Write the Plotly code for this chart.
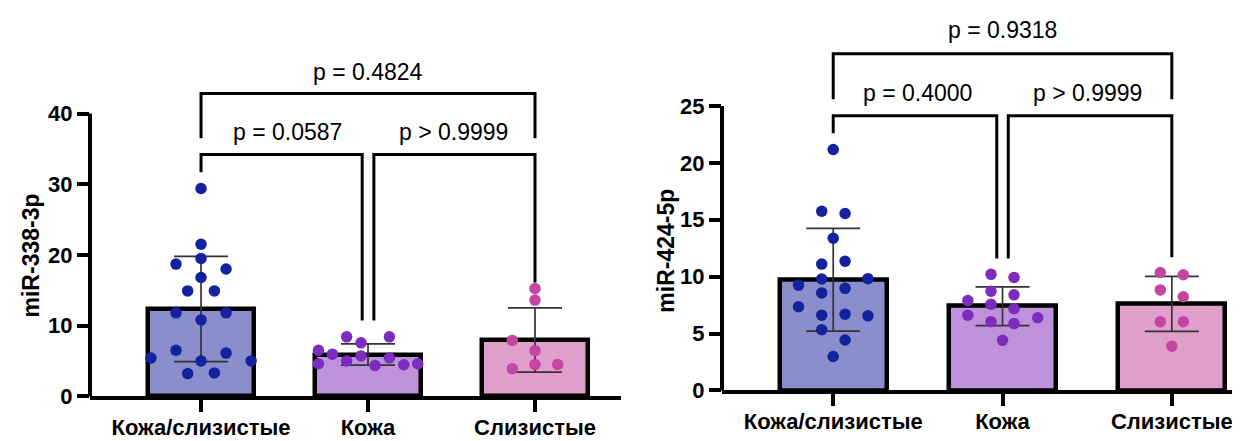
import plotly.graph_objects as go

# ---------------- data ----------------
categories = ["Кожа/слизистые", "Кожа", "Слизистые"]

# Panel 1: miR-338-3p
p1_title = "miR-338-3p"
p1_mean = [12.35, 5.9, 7.95]
p1_sd = [7.45, 1.5, 4.55]
p1_vals = [
    [29.4, 21.5, 19.5, 18.7, 18.0, 16.8, 14.9, 14.9, 11.8, 11.8, 10.8, 6.5, 6.1, 5.4, 5.0, 5.0, 3.2, 3.3],
    [8.4, 8.4, 7.55, 6.5, 5.95, 5.7, 5.4, 5.0, 4.6, 4.35, 4.45, 4.6],
    [15.25, 13.6, 7.9, 6.45, 4.5, 3.9, 4.5],
]
p1_jitter = [
    [0, 0, 0, -0.15, 0.15, 0, -0.08, 0.08, -0.15, 0.15, 0, -0.15, 0.15, -0.30, 0.30, 0, -0.08, 0.08],
    [-0.128, 0.128, -0.042, -0.297, -0.213, -0.042, 0.128, -0.128, -0.297, 0.042, 0.214, 0.298],
    [0, 0, -0.136, 0, 0, -0.136, 0.136],
]
p1_ticks = [0, 10, 20, 30, 40]
p1_pvals = ["p = 0.4824", "p = 0.0587", "p > 0.9999"]

# Panel 2: miR-424-5p
p2_title = "miR-424-5p"
p2_mean = [9.72, 7.4, 7.6]
p2_sd = [4.52, 1.7, 2.42]
p2_vals = [
    [21.17, 15.75, 15.55, 13.37, 11.1, 11.35, 9.25, 9.79, 9.82, 8.57, 8.97, 7.35, 6.61, 6.70, 6.55, 5.33, 4.43, 2.98],
    [10.2, 9.93, 8.71, 8.40, 7.89, 7.58, 7.18, 6.61, 6.38, 6.04, 5.87, 4.40],
    [10.36, 10.16, 8.83, 8.23, 6.04, 6.04, 3.89],
]
p2_jitter = [
    [0, -0.068, 0.07, 0, -0.068, 0.07, -0.205, -0.068, 0.205, -0.068, 0.07, -0.205, -0.068, 0.07, 0.205, -0.068, 0.07, 0],
    [-0.068, 0.068, -0.068, 0.068, -0.205, -0.068, 0.068, -0.205, 0.208, -0.068, 0.068, 0],
    [-0.068, 0.068, -0.068, 0.068, -0.068, 0.068, 0],
]
p2_ticks = [0, 5, 10, 15, 20, 25]
p2_pvals = ["p = 0.9318", "p = 0.4000", "p > 0.9999"]

# ---------------- style ----------------
bar_fill = ["#8a8fcc", "#be92da", "#e09fcb"]
dot_color = ["#13229e", "#7e2cbf", "#c545a3"]
FONT = "Liberation Sans, Arial, Helvetica, sans-serif"
W, H = 1240, 441

fig = go.Figure()


def add_panel(fig, xa, ya, means, sds, vals, jit):
    xs = list(range(len(categories)))
    for i in xs:
        fig.add_trace(go.Bar(
            x=[i], y=[means[i]], width=0.63, xaxis=xa, yaxis=ya,
            marker=dict(color=bar_fill[i], line=dict(color="black", width=4.5)),
            error_y=dict(type="data", array=[sds[i]], visible=True,
                         color="#333333", thickness=1.7, width=27),
            showlegend=False, hoverinfo="skip"))
    for i in xs:
        fig.add_trace(go.Scatter(
            x=[i + j for j in jit[i]], y=vals[i], mode="markers",
            xaxis=xa, yaxis=ya,
            marker=dict(color=dot_color[i], size=11.5, line=dict(width=0)),
            showlegend=False, hoverinfo="skip"))


add_panel(fig, "x", "y", p1_mean, p1_sd, p1_vals, p1_jitter)
add_panel(fig, "x2", "y2", p2_mean, p2_sd, p2_vals, p2_jitter)


def px_x(p):
    return p / W


def px_y(p):
    return (H - p) / H


L_RANGE_Y = [0, 50]
R_RANGE_Y = [0, 33.1]

tick_font = dict(family=FONT, size=22, color="black", weight="bold")
xaxis_common = dict(
    tickvals=[0, 1, 2], ticktext=categories, showline=True, linecolor="black",
    linewidth=4, ticks="outside", ticklen=12, tickwidth=3.5, tickcolor="black",
    showgrid=False, zeroline=False, tickfont=tick_font, ticklabelstandoff=-4,
)
yaxis_common = dict(
    showline=False, ticks="outside", ticklen=12, tickwidth=3.5, tickcolor="black",
    showgrid=False, zeroline=False, tickfont=tick_font,
)

fig.update_layout(
    width=W, height=H, autosize=False,
    margin=dict(l=0, r=0, t=0, b=0),
    paper_bgcolor="white", plot_bgcolor="rgba(0,0,0,0)",
    bargap=0,
    xaxis=dict(domain=[px_x(82), px_x(613)], range=[-0.665, 2.515], anchor="y", **xaxis_common),
    yaxis=dict(domain=[px_y(400), px_y(36)], range=L_RANGE_Y, tickvals=p1_ticks, anchor="x", **yaxis_common),
    xaxis2=dict(domain=[px_x(714), 1.0], range=[-0.657, 2.45], anchor="y2", **xaxis_common),
    yaxis2=dict(domain=[px_y(394), px_y(6)], range=R_RANGE_Y, tickvals=p2_ticks, anchor="x2", **yaxis_common),
)

shapes = []
# y-axis lines, only up to the last tick
shapes.append(dict(type="line", xref="x domain", yref="y domain", x0=0, x1=0,
                   y0=0, y1=p1_ticks[-1] / L_RANGE_Y[1], line=dict(color="black", width=4)))
shapes.append(dict(type="line", xref="x2 domain", yref="y2 domain", x0=0, x1=0,
                   y0=0, y1=p2_ticks[-1] / R_RANGE_Y[1], line=dict(color="black", width=4)))


def bracket(xref, yref, xa, xb, ytop, ya_bot, yb_bot):
    return dict(type="path", xref=xref, yref=yref,
                path=f"M {xa},{ya_bot} L {xa},{ytop} L {xb},{ytop} L {xb},{yb_bot}",
                line=dict(color="black", width=3))


# panel 1 brackets
shapes.append(bracket("x", "y", 0, 2, 42.86, 36.5, 36.5))
shapes.append(bracket("x", "y", 0, 0.965, 34.2, 31.7, 10.7))
shapes.append(bracket("x", "y", 1.035, 2, 34.2, 10.7, 16.1))
# panel 2 brackets
shapes.append(bracket("x2", "y2", 0, 2, 29.6, 25.6, 25.6))
shapes.append(bracket("x2", "y2", 0, 0.966, 24.15, 22.6, 11.6))
shapes.append(bracket("x2", "y2", 1.034, 2, 24.15, 11.6, 11.7))
fig.update_layout(shapes=shapes)

pfont = dict(family=FONT, size=23, color="black")
title_font = dict(family=FONT, size=23, color="black", weight="bold")
annotations = [
    dict(xref="x", yref="y", x=1, y=45.9, text=p1_pvals[0], showarrow=False, font=pfont),
    dict(xref="x", yref="y", x=0.52, y=37.4, text=p1_pvals[1], showarrow=False, font=pfont),
    dict(xref="x", yref="y", x=1.51, y=37.4, text=p1_pvals[2], showarrow=False, font=pfont),
    dict(xref="x2", yref="y2", x=1, y=31.7, text=p2_pvals[0], showarrow=False, font=pfont),
    dict(xref="x2", yref="y2", x=0.5, y=26.1, text=p2_pvals[1], showarrow=False, font=pfont),
    dict(xref="x2", yref="y2", x=1.5, y=26.1, text=p2_pvals[2], showarrow=False, font=pfont),
    dict(xref="paper", yref="paper", x=px_x(23), y=px_y(255), text=p1_title, textangle=-90,
         xanchor="center", yanchor="middle", showarrow=False, font=title_font),
    dict(xref="paper", yref="paper", x=px_x(658), y=px_y(250), text=p2_title, textangle=-90,
         xanchor="center", yanchor="middle", showarrow=False, font=title_font),
]
fig.update_layout(annotations=annotations)

fig.write_html("out.html")
